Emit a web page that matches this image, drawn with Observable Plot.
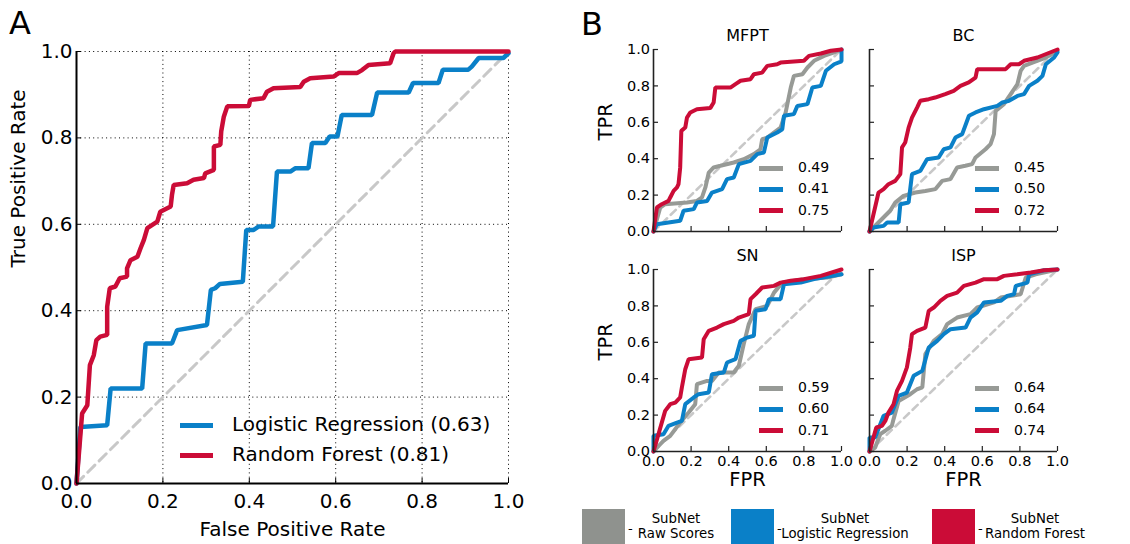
<!DOCTYPE html>
<html><head><meta charset="utf-8">
<script src="https://cdn.jsdelivr.net/npm/d3@7"></script>
<script src="https://cdn.jsdelivr.net/npm/@observablehq/plot@0.6"></script>
<style>
body{margin:0;background:#fff;font-family:"DejaVu Sans",sans-serif;}
#root{position:relative;width:1130px;height:544px;overflow:hidden;background:#fff;}
.abs{position:absolute;}
svg{overflow:visible;}
.lg{position:absolute;white-space:nowrap;color:#000;}
</style></head><body><div id="root"></div>
<script>
// ---------- data ----------
const tickVals = [0, 0.2, 0.4, 0.6, 0.8, 1.0];
const diag = [[0,0],[1,1]];

// Panel A
const lrA = [[0,0],[0.009,0.131],[0.071,0.135],[0.079,0.22],[0.152,0.22],[0.16,0.324],[0.221,0.324],[0.233,0.355],[0.302,0.367],[0.311,0.448],[0.321,0.452],[0.332,0.462],[0.385,0.467],[0.393,0.587],[0.41,0.587],[0.422,0.595],[0.455,0.595],[0.464,0.722],[0.495,0.722],[0.507,0.73],[0.537,0.73],[0.545,0.788],[0.576,0.788],[0.586,0.803],[0.604,0.803],[0.614,0.853],[0.684,0.853],[0.696,0.905],[0.769,0.905],[0.779,0.927],[0.838,0.927],[0.848,0.958],[0.907,0.958],[0.915,0.965],[0.931,0.985],[0.988,0.985],[1,0.996]];
const rfA = [[0,0],[0.013,0.162],[0.025,0.181],[0.031,0.274],[0.04,0.297],[0.046,0.332],[0.055,0.34],[0.071,0.344],[0.071,0.409],[0.077,0.452],[0.09,0.456],[0.1,0.475],[0.117,0.479],[0.117,0.498],[0.125,0.517],[0.141,0.525],[0.148,0.544],[0.156,0.564],[0.164,0.591],[0.187,0.606],[0.194,0.629],[0.218,0.641],[0.221,0.668],[0.225,0.691],[0.256,0.695],[0.271,0.703],[0.295,0.707],[0.298,0.718],[0.318,0.726],[0.318,0.78],[0.333,0.784],[0.335,0.815],[0.341,0.849],[0.349,0.873],[0.399,0.874],[0.402,0.888],[0.433,0.892],[0.441,0.907],[0.456,0.915],[0.518,0.918],[0.526,0.93],[0.541,0.938],[0.595,0.942],[0.607,0.95],[0.649,0.95],[0.661,0.957],[0.676,0.969],[0.726,0.973],[0.734,0.996],[0.738,1],[1,1]];
const legendA = ["Logistic Regression (0.63)", "Random Forest (0.81)"];

// Panel B : MFPT
const rawMFPT = [[0,0],[0.036,0.132],[0.062,0.15],[0.178,0.159],[0.231,0.168],[0.258,0.187],[0.276,0.242],[0.294,0.324],[0.32,0.352],[0.356,0.361],[0.427,0.379],[0.48,0.397],[0.534,0.425],[0.569,0.452],[0.578,0.507],[0.605,0.516],[0.676,0.571],[0.703,0.654],[0.73,0.791],[0.747,0.855],[0.792,0.864],[0.819,0.901],[0.854,0.938],[0.907,0.965],[0.961,0.984],[1,1]];
const lrMFPT = [[0,0],[0.018,0.04],[0.142,0.059],[0.16,0.114],[0.214,0.123],[0.231,0.159],[0.285,0.168],[0.311,0.214],[0.365,0.233],[0.391,0.288],[0.427,0.297],[0.454,0.37],[0.516,0.388],[0.552,0.425],[0.587,0.434],[0.605,0.516],[0.658,0.544],[0.685,0.562],[0.694,0.636],[0.747,0.645],[0.765,0.69],[0.819,0.7],[0.845,0.791],[0.89,0.8],[0.917,0.883],[0.961,0.919],[1,0.935],[1,1]];
const rfMFPT = [[0,0],[0.018,0.132],[0.044,0.15],[0.08,0.168],[0.089,0.187],[0.107,0.223],[0.125,0.242],[0.133,0.26],[0.142,0.352],[0.148,0.553],[0.169,0.571],[0.178,0.626],[0.196,0.654],[0.231,0.672],[0.302,0.678],[0.32,0.709],[0.329,0.791],[0.409,0.791],[0.436,0.81],[0.463,0.828],[0.516,0.837],[0.534,0.864],[0.578,0.873],[0.605,0.91],[0.658,0.919],[0.676,0.928],[0.8,0.938],[0.827,0.965],[0.89,0.978],[0.943,0.993],[1,1]];
const aucMFPT = ["0.49", "0.41", "0.75"];

// Panel B : BC
const rawBC = [[0,0],[0.057,0.059],[0.11,0.114],[0.137,0.159],[0.181,0.196],[0.244,0.214],[0.297,0.223],[0.351,0.233],[0.386,0.278],[0.431,0.288],[0.466,0.352],[0.51,0.361],[0.546,0.37],[0.564,0.407],[0.617,0.452],[0.644,0.48],[0.662,0.535],[0.671,0.663],[0.715,0.7],[0.751,0.755],[0.787,0.81],[0.804,0.883],[0.822,0.91],[0.867,0.928],[0.938,0.956],[1,0.993]];
const lrBC = [[0,0],[0.021,0.022],[0.075,0.031],[0.093,0.049],[0.155,0.049],[0.164,0.15],[0.208,0.159],[0.226,0.315],[0.27,0.333],[0.306,0.397],[0.368,0.407],[0.395,0.452],[0.431,0.462],[0.457,0.516],[0.493,0.535],[0.529,0.636],[0.564,0.654],[0.609,0.672],[0.68,0.69],[0.707,0.709],[0.742,0.718],[0.787,0.745],[0.822,0.755],[0.849,0.8],[0.893,0.828],[0.92,0.855],[0.938,0.919],[0.982,0.956],[1,0.984]];
const rfBC = [[0,0],[0.048,0.214],[0.075,0.233],[0.101,0.26],[0.137,0.278],[0.164,0.315],[0.173,0.462],[0.19,0.489],[0.208,0.571],[0.226,0.626],[0.253,0.681],[0.27,0.718],[0.315,0.727],[0.349,0.736],[0.403,0.755],[0.448,0.773],[0.484,0.8],[0.528,0.819],[0.564,0.846],[0.573,0.892],[0.724,0.892],[0.751,0.919],[0.795,0.919],[0.822,0.938],[0.893,0.956],[1,1]];
const aucBC = ["0.45", "0.50", "0.72"];

// Panel B : SN
const rawSN = [[0,0],[0.053,0.059],[0.089,0.086],[0.142,0.159],[0.187,0.214],[0.222,0.26],[0.231,0.37],[0.285,0.388],[0.311,0.388],[0.347,0.434],[0.427,0.434],[0.454,0.471],[0.48,0.59],[0.507,0.7],[0.543,0.782],[0.605,0.8],[0.641,0.873],[0.685,0.928],[0.8,0.947],[0.925,0.956],[1,0.974]];
const lrSN = [[0,0],[0,0.086],[0.053,0.095],[0.08,0.141],[0.125,0.159],[0.151,0.168],[0.169,0.26],[0.214,0.297],[0.24,0.315],[0.294,0.324],[0.311,0.425],[0.374,0.434],[0.391,0.489],[0.436,0.507],[0.463,0.608],[0.498,0.626],[0.534,0.636],[0.543,0.773],[0.596,0.782],[0.614,0.837],[0.676,0.837],[0.694,0.919],[0.783,0.928],[0.854,0.947],[1,0.974]];
const rfSN = [[0,0],[0.062,0.223],[0.089,0.26],[0.116,0.269],[0.142,0.297],[0.151,0.352],[0.169,0.452],[0.187,0.507],[0.258,0.516],[0.267,0.617],[0.294,0.663],[0.338,0.681],[0.374,0.7],[0.427,0.718],[0.454,0.736],[0.507,0.755],[0.516,0.837],[0.543,0.864],[0.578,0.901],[0.641,0.91],[0.676,0.928],[0.73,0.938],[0.8,0.947],[0.89,0.965],[1,1]];
const aucSN = ["0.59", "0.60", "0.71"];

// Panel B : ISP
const rawISP = [[0,0],[0.03,0.022],[0.057,0.095],[0.084,0.114],[0.119,0.141],[0.128,0.178],[0.155,0.278],[0.217,0.315],[0.253,0.342],[0.281,0.352],[0.297,0.535],[0.342,0.608],[0.386,0.645],[0.413,0.7],[0.466,0.736],[0.537,0.755],[0.573,0.791],[0.662,0.819],[0.698,0.846],[0.804,0.864],[0.831,0.956],[0.884,0.974],[1,1]];
const lrISP = [[0,0],[0,0.077],[0.03,0.077],[0.075,0.196],[0.119,0.214],[0.155,0.306],[0.199,0.324],[0.235,0.416],[0.281,0.443],[0.315,0.571],[0.36,0.608],[0.395,0.645],[0.431,0.672],[0.511,0.681],[0.537,0.736],[0.573,0.764],[0.609,0.819],[0.698,0.828],[0.733,0.855],[0.769,0.864],[0.778,0.91],[0.84,0.928],[0.849,0.974],[0.929,0.996],[1,1]];
const rfISP = [[0,0],[0.036,0.132],[0.066,0.141],[0.084,0.168],[0.101,0.214],[0.128,0.26],[0.146,0.333],[0.173,0.388],[0.199,0.462],[0.217,0.571],[0.226,0.645],[0.253,0.663],[0.297,0.681],[0.315,0.773],[0.342,0.791],[0.377,0.828],[0.413,0.855],[0.466,0.873],[0.502,0.91],[0.564,0.928],[0.609,0.947],[0.68,0.947],[0.715,0.965],[0.786,0.974],[0.858,0.984],[0.929,0.996],[1,1]];
const aucISP = ["0.64", "0.64", "0.74"];

const subLabels = ["SubNet\nRaw Scores", "SubNet\nLogistic Regression", "SubNet\nRandom Forest"];

// ---------- styles ----------
const BLUE = "#0a80c8", RED = "#cb0c37", GRAY = "#979a96", DIAG = "#c8c8c8";
const FONT = "DejaVu Sans";
const fmt = d3.format(".1f");
const root = document.getElementById("root");
const toXY = a => a.map(([x, y]) => ({x, y}));

function place(el, left, top) {
  const d = document.createElement("div");
  d.className = "abs";
  d.style.left = left + "px"; d.style.top = top + "px";
  d.appendChild(el);
  root.appendChild(d);
  return d;
}
function label(text, left, top, size, extra) {
  const d = document.createElement("div");
  d.className = "lg";
  d.style.left = left + "px"; d.style.top = top + "px";
  d.style.fontSize = size + "px";
  d.style.lineHeight = "1";
  if (extra) Object.assign(d.style, extra);
  d.textContent = text;
  root.appendChild(d);
  return d;
}
function swatchLine(left, cy, w, color, thick) {
  const d = document.createElement("div");
  d.className = "abs";
  Object.assign(d.style, {left: left + "px", top: (cy - thick / 2) + "px", width: w + "px", height: thick + "px", background: color});
  root.appendChild(d);
}

// ---------- Panel A ----------
{
  const W = 560, H = 544, mL = 76, mR = 52, mT = 51, mB = 61;
  const iH = H - mT - mB, iW = W - mL - mR;
  const p = Plot.plot({
    width: W, height: H, marginLeft: mL, marginRight: mR, marginTop: mT, marginBottom: mB,
    style: {background: "transparent", fontFamily: FONT, fontSize: "20px", color: "black", overflow: "visible"},
    x: {domain: [0, 1], axis: null}, y: {domain: [0, 1], axis: null},
    marks: [
      Plot.gridX(tickVals, {stroke: "black", strokeOpacity: 1, strokeWidth: 1, strokeDasharray: "1,3.3"}),
      Plot.gridY(tickVals, {stroke: "black", strokeOpacity: 1, strokeWidth: 1, strokeDasharray: "1,3.3"}),
      Plot.line(toXY(diag), {x: "x", y: "y", stroke: DIAG, strokeWidth: 3, strokeDasharray: "10,6"}),
      Plot.line(toXY(lrA), {x: "x", y: "y", stroke: BLUE, strokeWidth: 4.5, strokeLinejoin: "miter"}),
      Plot.line(toXY(rfA), {x: "x", y: "y", stroke: RED, strokeWidth: 4.5, strokeLinejoin: "miter"}),
      Plot.tickX(tickVals, {x: d => d, stroke: "black", insetTop: iH - 5}),
      Plot.tickY(tickVals, {y: d => d, stroke: "black", insetRight: iW - 5}),
      Plot.ruleX([0], {stroke: "black", strokeWidth: 2}),
      Plot.ruleY([0], {stroke: "black", strokeWidth: 2}),
      Plot.axisX(tickVals, {tickSize: 0, tickPadding: 10, tickFormat: fmt, label: null, fontSize: 20}),
      Plot.axisY(tickVals, {tickSize: 0, tickPadding: 4, tickFormat: fmt, label: null, fontSize: 20}),
      Plot.text(["False Positive Rate"], {text: d => d, frameAnchor: "bottom", lineAnchor: "middle", dy: 46.5, fontSize: 20}),
      Plot.text(["True Positive Rate"], {text: d => d, frameAnchor: "left", lineAnchor: "middle", rotate: -90, dx: -58, fontSize: 20})
    ]
  });
  place(p, 0, 0);
  swatchLine(180, 425.7, 33, BLUE, 5);
  swatchLine(180, 455, 33, RED, 5);
  label(legendA[0], 232, 425.7 - 11.5, 20);
  label(legendA[1], 232, 455 - 11.5, 20);
}

// ---------- Panel B ----------
function sub(cfg) {
  const {name, raw, lr, rf, auc, left, top, W, H, mL, mR, mT, mB, showY, showX} = cfg;
  const iH = H - mT - mB, iW = W - mL - mR;
  const marks = [
    Plot.line(toXY(diag), {x: "x", y: "y", stroke: DIAG, strokeWidth: 2.6, strokeDasharray: "7,5"}),
    Plot.line(toXY(raw), {x: "x", y: "y", stroke: GRAY, strokeWidth: 4, strokeLinejoin: "miter"}),
    Plot.line(toXY(lr), {x: "x", y: "y", stroke: BLUE, strokeWidth: 4, strokeLinejoin: "miter"}),
    Plot.line(toXY(rf), {x: "x", y: "y", stroke: RED, strokeWidth: 4, strokeLinejoin: "miter"}),
    Plot.tickX(tickVals, {x: d => d, stroke: "#222", strokeWidth: 1.2, insetTop: iH - 5}),
    Plot.tickY(tickVals, {y: d => d, stroke: "#222", strokeWidth: 1.2, insetRight: iW - 5}),
    Plot.ruleX([0], {stroke: "#222", strokeWidth: 1.6}),
    Plot.ruleY([0], {stroke: "#222", strokeWidth: 1.6}),
    Plot.text([name], {text: d => d, frameAnchor: "top", lineAnchor: "middle", dy: -13.5, fontSize: 16})
  ];
  if (showX) {
    marks.push(Plot.axisX(tickVals, {tickSize: 0, tickPadding: 4.4, tickFormat: fmt, label: null, fontSize: 14.5}));
    marks.push(Plot.text(["FPR"], {text: d => d, frameAnchor: "bottom", lineAnchor: "middle", dy: 28, fontSize: 19.5}));
  }
  if (showY) {
    marks.push(Plot.axisY(tickVals, {tickSize: 0, tickPadding: 3.5, tickFormat: fmt, label: null, fontSize: 14.5}));
    marks.push(Plot.text(["TPR"], {text: d => d, frameAnchor: "left", lineAnchor: "middle", rotate: -90, dx: -48, fontSize: 19.5}));
  }
  const p = Plot.plot({
    width: W, height: H, marginLeft: mL, marginRight: mR, marginTop: mT, marginBottom: mB,
    style: {background: "transparent", fontFamily: FONT, fontSize: "14.5px", color: "black", overflow: "visible"},
    x: {domain: [0, 1], axis: null}, y: {domain: [0, 1], axis: null},
    marks
  });
  place(p, left, top);
  const fx = left + mL, fy = top + mT;
  const cols = [GRAY, BLUE, RED];
  const offs = [119.3, 140.3, 161.7];
  cols.forEach((c, i) => {
    swatchLine(fx + 106, fy + offs[i], 24, c, 4.5);
    label(auc[i], fx + 145, fy + offs[i] - 8, 14);
  });
}
sub({name: "MFPT", raw: rawMFPT, lr: lrMFPT, rf: rfMFPT, auc: aucMFPT, left: 560, top: 0, W: 287, H: 240, mL: 93, mR: 6, mT: 49, mB: 9, showY: true, showX: false});
sub({name: "BC", raw: rawBC, lr: lrBC, rf: rfBC, auc: aucBC, left: 847, top: 0, W: 283, H: 240, mL: 22, mR: 73, mT: 49, mB: 9, showY: false, showX: false});
sub({name: "SN", raw: rawSN, lr: lrSN, rf: rfSN, auc: aucSN, left: 560, top: 240, W: 287, H: 264, mL: 93, mR: 6, mT: 29, mB: 53, showY: true, showX: true});
sub({name: "ISP", raw: rawISP, lr: lrISP, rf: rfISP, auc: aucISP, left: 847, top: 240, W: 283, H: 264, mL: 22, mR: 73, mT: 29, mB: 53, showY: false, showX: true});

// ---------- panel letters ----------
label("A", 9, 7, 32);
label("B", 581, 8, 32);

// ---------- bottom legend ----------
{
  const swX = [582, 731, 932];
  const txtC = [676, 845, 1035];
  const cols = ["#8f928e", "#0a80c8", "#cb0c37"];
  subLabels.forEach((s, i) => {
    const d = document.createElement("div");
    d.className = "abs";
    Object.assign(d.style, {left: swX[i] + "px", top: "509px", width: "43px", height: "35px", background: cols[i]});
    root.appendChild(d);
    label("-", swX[i] + 46, 522, 13);
    const [l1, l2] = s.split("\n");
    label(l1, txtC[i] - 100, 512, 13.3, {width: "200px", textAlign: "center"});
    label(l2, txtC[i] - 100, 527, 13.3, {width: "200px", textAlign: "center"});
  });
}
</script></body></html>
